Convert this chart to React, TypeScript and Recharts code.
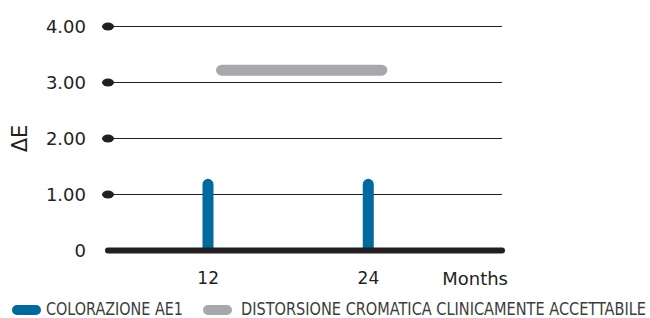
import React from 'react';
import { ComposedChart, Bar, Line, XAxis, YAxis, CartesianGrid, ReferenceLine, Label } from 'recharts';

const months = [12, 24];
const colorazione = [1.28, 1.28];
const thresholdMonths = [13, 25];
const thresholdValue = 3.22;
const yTicks = [0, 1, 2, 3, 4];
const legendLabels = ['COLORAZIONE AE1', 'DISTORSIONE CROMATICA CLINICAMENTE ACCETTABILE'];

const BLUE = '#00699d';
const GRAY = '#a7a8ab';
const INK = '#231f20';

const barData = months.map((m, i) => ({ month: m, value: colorazione[i] }));
const lineData = thresholdMonths.map((m) => ({ month: m, limit: thresholdValue }));

const FONT = '"DejaVu Sans", sans-serif';
const NARROW = '"Liberation Sans Narrow", "DejaVu Sans Condensed", Roboto, sans-serif';

const YTick = (props: any) => {
  const { x, y, payload } = props;
  const v = payload.value;
  return (
    <g>
      {v !== 0 && <ellipse cx={x} cy={y} rx={6} ry={4} fill={INK} />}
      <text x={x - 22} y={y + 6} textAnchor="end" fontFamily={FONT} fontSize={18} fill={INK}>
        {v === 0 ? '0' : v.toFixed(2)}
      </text>
    </g>
  );
};

const XTick = (props: any) => {
  const { x, y, payload } = props;
  return (
    <text x={x} y={y + 25} textAnchor="middle" fontFamily={FONT} fontSize={17} fill={INK}>
      {payload.value}
    </text>
  );
};

const MonthsLabel = (props: any) => {
  const vb = props.viewBox;
  return (
    <text x={vb.x + vb.width + 6} y={vb.y + 34} textAnchor="end" fontFamily={FONT} fontSize={18} fill={INK}>
      Months
    </text>
  );
};

const DeltaLabel = (props: any) => {
  const vb = props.viewBox;
  const cx = 27;
  const cy = vb.y + vb.height / 2;
  return (
    <text x={cx} y={cy} transform={`rotate(-90, ${cx}, ${cy})`} textAnchor="middle" fontFamily={FONT} fontSize={21} fill={INK}>
      ΔE
    </text>
  );
};

export default function App() {
  return (
    <div style={{ position: 'absolute', left: 0, top: 0, width: 650, height: 318 }}>
      <ComposedChart
        width={650}
        height={296}
        data={barData}
        margin={{ top: 26.5, right: 148, bottom: 15.5, left: 0 }}
      >
        <CartesianGrid horizontal vertical={false} stroke={INK} strokeWidth={1} />
        <XAxis
          dataKey="month"
          type="number"
          domain={[4.5, 34]}
          ticks={months}
          axisLine={false}
          tickLine={false}
          height={30}
          tick={<XTick />}
          allowDataOverflow
        >
          <Label content={<MonthsLabel />} />
        </XAxis>
        <YAxis
          type="number"
          domain={[0, 4]}
          ticks={yTicks}
          width={108}
          axisLine={false}
          tickLine={false}
          tickSize={0}
          tickMargin={0}
          tick={<YTick />}
        >
          <Label content={<DeltaLabel />} />
        </YAxis>
        <Bar dataKey="value" fill={BLUE} barSize={11} radius={[5.5, 5.5, 0, 0]} isAnimationActive={false} />
        <Line
          data={lineData}
          dataKey="limit"
          stroke={GRAY}
          strokeWidth={11}
          strokeLinecap="round"
          dot={false}
          activeDot={false}
          isAnimationActive={false}
        />
        <ReferenceLine y={0} stroke={INK} strokeWidth={6} strokeLinecap="round" />
      </ComposedChart>
      <svg width={650} height={24} style={{ position: 'absolute', left: 0, top: 294 }}>
        <rect x={12} y={11} width={29} height={10} rx={5} fill={BLUE} />
        <text transform="translate(46, 20.5) scale(1, 1.15)" x={0} y={0} fontFamily={NARROW} fontSize={16} fill="#3c3c3c" textLength={137} lengthAdjust="spacingAndGlyphs">
          {legendLabels[0]}
        </text>
        <rect x={203} y={11} width={29} height={10} rx={5} fill={GRAY} />
        <text transform="translate(241, 20.5) scale(1, 1.15)" x={0} y={0} fontFamily={NARROW} fontSize={16} fill="#3c3c3c" textLength={405} lengthAdjust="spacingAndGlyphs">
          {legendLabels[1]}
        </text>
      </svg>
    </div>
  );
}
